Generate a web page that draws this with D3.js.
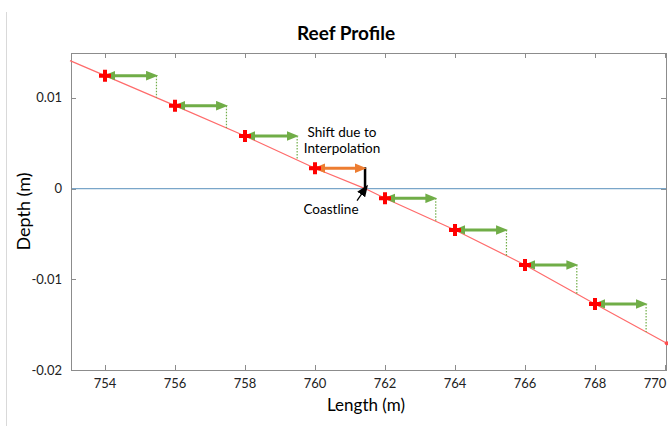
<!DOCTYPE html>
<html>
<head>
<meta charset="utf-8">
<script src="https://cdn.jsdelivr.net/npm/d3@7"></script>
<style>
  body { margin: 0; background: #fff; }
  svg { display: block; font-family: Lato, "Open Sans", sans-serif; }
</style>
</head>
<body>
<div id="chart"></div>
<script>
const width = 668;
const height = 426;

// red reef profile (length m, depth m)
const profileLength = [753, 754, 756, 758, 760, 761.43, 762, 764, 766, 768, 770.05];
const profileDepth = [0.0141, 0.01245, 0.00914, 0.0058, 0.00224, 0, -0.00107, -0.00456, -0.00842, -0.01272, -0.01705];

// sampled points (red crosses) and where each shift arrow ends
const sampleLength = [754, 756, 758, 760, 762, 764, 766, 768];
const sampleDepth = [0.01245, 0.00914, 0.0058, 0.00224, -0.00107, -0.00456, -0.00842, -0.01272];
const arrowEnd = [755.47, 757.47, 759.49, 761.43, 763.45, 765.47, 767.48, 769.46];
const coastIndex = 3;
const coastline = 761.43;

const xTicks = [754, 756, 758, 760, 762, 764, 766, 768, 770];
const yTicks = [0.01, 0, -0.01, -0.02];
const yTickLabels = ["0.01", "0", "-0.01", "-0.02"];

const green = "#70ad47";
const orange = "#ed7d31";
const axisGray = "#8c8c8c";

const x = d3.scaleLinear().domain([753, 770]).range([70, 665]);
const y = d3.scaleLinear().domain([-0.02, 0.015]).range([370, 52.5]);
const depthAt = d3.scaleLinear().domain(profileLength).range(profileDepth);

const plotLeft = 71, plotRight = 666, plotTop = 53, plotBottom = 370;

const svg = d3.select("#chart").append("svg")
  .attr("width", width)
  .attr("height", height);

// page edge line on the far left
svg.append("line")
  .attr("x1", 6.5).attr("x2", 6.5)
  .attr("y1", 12).attr("y2", 426)
  .attr("stroke", "#d9d9d9");

const defs = svg.append("defs");
[["arrow-green", green], ["arrow-orange", orange], ["arrow-black", "#000"]].forEach(([id, c]) => {
  defs.append("marker")
    .attr("id", id)
    .attr("markerUnits", "userSpaceOnUse")
    .attr("markerWidth", 12)
    .attr("markerHeight", 10)
    .attr("viewBox", "0 0 10 8")
    .attr("refX", 2)
    .attr("refY", 4)
    .attr("orient", "auto-start-reverse")
    .append("path")
    .attr("d", "M0,0 L10,4 L0,8 Z")
    .attr("fill", c);
});

svg.append("text")
  .attr("x", 346)
  .attr("y", 40)
  .attr("text-anchor", "middle")
  .style("font-size", "19px")
  .style("font-weight", "bold")
  .attr("fill", "#000")
  .text("Reef Profile");

const g = svg.append("g");

// plot frame
g.append("rect")
  .attr("x", plotLeft + 0.5)
  .attr("y", plotTop + 0.5)
  .attr("width", plotRight - plotLeft)
  .attr("height", plotBottom - plotTop)
  .attr("fill", "none")
  .attr("stroke", axisGray);

// ticks on all four sides, pointing inward
g.selectAll(".xtick-b").data(xTicks).join("line")
  .attr("x1", d => Math.round(x(d)) + 0.5).attr("x2", d => Math.round(x(d)) + 0.5)
  .attr("y1", plotBottom).attr("y2", plotBottom - 5)
  .attr("stroke", axisGray);
g.selectAll(".xtick-t").data(xTicks).join("line")
  .attr("x1", d => Math.round(x(d)) + 0.5).attr("x2", d => Math.round(x(d)) + 0.5)
  .attr("y1", plotTop).attr("y2", plotTop + 5)
  .attr("stroke", axisGray);
g.selectAll(".ytick-l").data(yTicks).join("line")
  .attr("x1", plotLeft).attr("x2", plotLeft + 5)
  .attr("y1", d => Math.round(y(d)) + 0.5).attr("y2", d => Math.round(y(d)) + 0.5)
  .attr("stroke", axisGray);
g.selectAll(".ytick-r").data(yTicks).join("line")
  .attr("x1", plotRight).attr("x2", plotRight - 5)
  .attr("y1", d => Math.round(y(d)) + 0.5).attr("y2", d => Math.round(y(d)) + 0.5)
  .attr("stroke", axisGray);

// pull the last label in a little so it is not clipped by the window edge
g.selectAll(".xlabel").data(xTicks).join("text")
  .attr("x", d => Math.min(x(d), 655))
  .attr("y", 388)
  .attr("text-anchor", "middle")
  .style("font-size", "13px")
  .attr("fill", "#222")
  .text(d => d);

g.selectAll(".ylabel").data(yTicks).join("text")
  .attr("x", 62)
  .attr("y", d => y(d) + 4.5)
  .attr("text-anchor", "end")
  .style("font-size", "13px")
  .attr("fill", "#222")
  .text((d, i) => yTickLabels[i]);

svg.append("text")
  .attr("x", 366)
  .attr("y", 411)
  .attr("text-anchor", "middle")
  .style("font-size", "17px")
  .attr("fill", "#000")
  .text("Length (m)");

svg.append("text")
  .attr("transform", `translate(30, ${(plotTop + plotBottom) / 2}) rotate(-90)`)
  .attr("text-anchor", "middle")
  .style("font-size", "18px")
  .attr("fill", "#000")
  .text("Depth (m)");

// zero line
g.append("line")
  .attr("x1", plotLeft + 1).attr("x2", plotRight)
  .attr("y1", y(0)).attr("y2", y(0))
  .attr("stroke", "#7aa6c9")
  .attr("stroke-width", 1.2);

// profile
g.append("path")
  .datum(profileLength.map((d, i) => [d, profileDepth[i]]))
  .attr("fill", "none")
  .attr("stroke", "#ff6b6b")
  .attr("stroke-width", 1.2)
  .attr("d", d3.line().x(d => x(d[0])).y(d => y(d[1])));

g.append("circle")
  .attr("cx", x(profileLength[profileLength.length - 1]))
  .attr("cy", y(profileDepth[profileDepth.length - 1]))
  .attr("r", 2)
  .attr("fill", "#ff4d4d");

const samples = sampleLength.map((d, i) => ({ len: d, depth: sampleDepth[i], end: arrowEnd[i], coast: i === coastIndex }));

// dotted drops from arrow tips to the profile
g.selectAll(".drop").data(samples.filter(d => !d.coast)).join("line")
  .attr("x1", d => x(d.end)).attr("x2", d => x(d.end))
  .attr("y1", d => y(d.depth)).attr("y2", d => y(depthAt(d.end)))
  .attr("stroke", green)
  .attr("stroke-width", 1.2)
  .attr("stroke-dasharray", "1.5,1.5");

// coastline marker
g.append("line")
  .attr("x1", x(coastline)).attr("x2", x(coastline))
  .attr("y1", y(sampleDepth[coastIndex]) - 1).attr("y2", y(0))
  .attr("stroke", "#000")
  .attr("stroke-width", 2.5);

// shift arrows
g.selectAll(".shift").data(samples).join("line")
  .attr("x1", d => x(d.len) + 8)
  .attr("x2", d => x(d.end) - 8)
  .attr("y1", d => y(d.depth)).attr("y2", d => y(d.depth))
  .attr("stroke", d => d.coast ? orange : green)
  .attr("stroke-width", 3)
  .attr("marker-start", d => d.coast ? "url(#arrow-orange)" : "url(#arrow-green)")
  .attr("marker-end", d => d.coast ? "url(#arrow-orange)" : "url(#arrow-green)");

// sample crosses
g.selectAll(".cross").data(samples).join("path")
  .attr("transform", d => `translate(${x(d.len)},${y(d.depth)})`)
  .attr("d", d3.symbol(d3.symbolCross, 80))
  .attr("fill", "#ff0000");

// annotations
const note = svg.append("text")
  .attr("text-anchor", "middle")
  .style("font-size", "13.5px")
  .attr("fill", "#000");
note.append("tspan").attr("x", 342).attr("y", 137).text("Shift due to");
note.append("tspan").attr("x", 342).attr("y", 153).text("Interpolation");

svg.append("text")
  .attr("x", 331)
  .attr("y", 214)
  .attr("text-anchor", "middle")
  .style("font-size", "13.5px")
  .attr("fill", "#000")
  .text("Coastline");

svg.append("line")
  .attr("x1", x(coastline) - 8).attr("y1", y(0) + 12)
  .attr("x2", x(coastline) - 2.5).attr("y2", y(0) + 4)
  .attr("stroke", "#000")
  .attr("stroke-width", 1.3)
  .attr("marker-end", "url(#arrow-black)");
</script>
</body>
</html>
